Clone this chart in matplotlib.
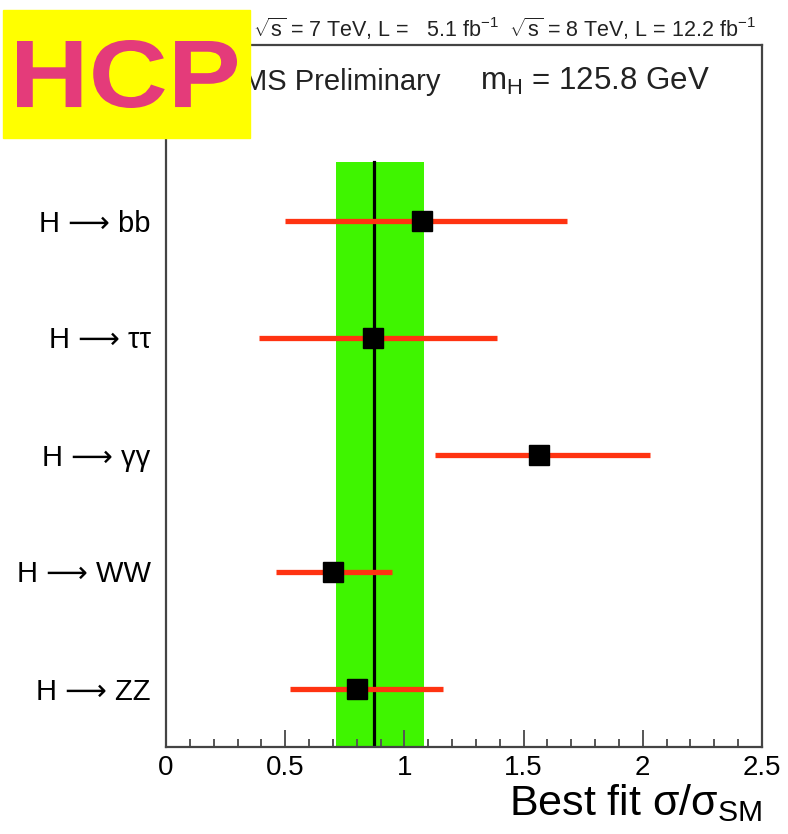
import numpy as np
import matplotlib.pyplot as plt
from matplotlib.patches import Rectangle, PathPatch
from matplotlib.textpath import TextPath
from matplotlib.font_manager import FontProperties
from matplotlib.transforms import Affine2D

plt.rcParams['font.family'] = ['Liberation Sans', 'DejaVu Sans']
plt.rcParams['mathtext.fontset'] = 'custom'
plt.rcParams['mathtext.rm'] = 'Liberation Sans'
plt.rcParams['mathtext.it'] = 'Liberation Sans'

channels = ['H ⟶ ZZ', 'H ⟶ WW', 'H ⟶ γγ', 'H ⟶ ττ', 'H ⟶ bb']
mu = [0.80, 0.70, 1.565, 0.87, 1.075]
mu_lo = [0.52, 0.46, 1.13, 0.39, 0.50]
mu_hi = [1.16, 0.95, 2.03, 1.39, 1.68]

comb = 0.872
comb_lo = 0.713
comb_hi = 1.082

xticks = [0, 0.5, 1, 1.5, 2, 2.5]
xticklabels = ['0', '0.5', '1', '1.5', '2', '2.5']

W, H = 788, 834
fig = plt.figure(figsize=(W / 100, H / 100), dpi=100)
ax = fig.add_axes([166 / W, 87 / H, 596 / W, 702 / H])

ypos = np.arange(1, len(channels) + 1)
ymin, ymax = 0.5, 6.5

# combined band + line
ax.fill_betweenx([ymin, 5.5], comb_lo, comb_hi, color='#3ff500', lw=0, zorder=1)
ax.plot([comb, comb], [ymin, 5.5], color='black', lw=2.3, zorder=2)

# per channel
mu = np.array(mu)
xerr = [mu - np.array(mu_lo), np.array(mu_hi) - mu]
ax.errorbar(mu, ypos, xerr=xerr, fmt='none', ecolor='#ff3311', elinewidth=3.8,
            capsize=0, zorder=3)
ax.plot(mu, ypos, 's', color='black', markersize=15, zorder=4)

ax.set_xlim(0, 2.5)
ax.set_ylim(ymin, ymax)
ax.set_xticks(xticks)
ax.set_xticklabels(xticklabels)
ax.set_xticks(np.arange(0, 2.51, 0.1), minor=True)
ax.tick_params(axis='x', which='major', direction='in', length=12, width=1.4,
               color='#555555', labelsize=20, pad=6)
ax.tick_params(axis='x', which='minor', direction='in', length=6, width=1.4,
               color='#555555')
ax.set_yticks(ypos)
ax.set_yticklabels(channels)
ax.tick_params(axis='y', length=0, labelsize=21, pad=11)
for s in ax.spines.values():
    s.set_color('#444444')
    s.set_linewidth(1.6)

fig.text(762 / W, 1 - 815 / H, r'Best fit $\sigma/\sigma_{\mathrm{SM}}$',
         ha='right', va='baseline', fontsize=31)

fig.text(756 / W, 1 - 37 / H,
         r'$\sqrt{s}$ = 7 TeV, L =   5.1 fb$^{-1}$  $\sqrt{s}$ = 8 TeV, L = 12.2 fb$^{-1}$',
         ha='right', va='baseline', fontsize=15.5, color='#222222')
fig.text(440 / W, 1 - 90 / H, 'CMS Preliminary', ha='right', va='baseline',
         fontsize=21, color='#222222')
fig.text(480 / W, 1 - 90 / H, r'm$_{\mathrm{H}}$ = 125.8 GeV', ha='left',
         va='baseline', fontsize=22.5, color='#222222')

# HCP badge
fig.patches.append(Rectangle((3 / W, 1 - 138 / H), 247 / W, 128 / H,
                             transform=fig.transFigure, color='#ffff00',
                             zorder=10))
tp = TextPath((0, 0), 'HCP', size=100,
              prop=FontProperties(family='Liberation Sans', weight='bold'))
ext = tp.get_extents()
x0, x1, ytop, ybot = 17, 237, 40, 108
sx = (x1 - x0) / ext.width
sy = (ybot - ytop) / ext.height
tr = (Affine2D().translate(-ext.x0, -ext.y0).scale(sx, sy)
      .translate(x0, H - ybot).scale(1 / W, 1 / H) + fig.transFigure)
fig.patches.append(PathPatch(tp, transform=tr, facecolor='#e43b7a',
                             edgecolor='none', zorder=11))

fig.savefig('out.png', dpi=100)
